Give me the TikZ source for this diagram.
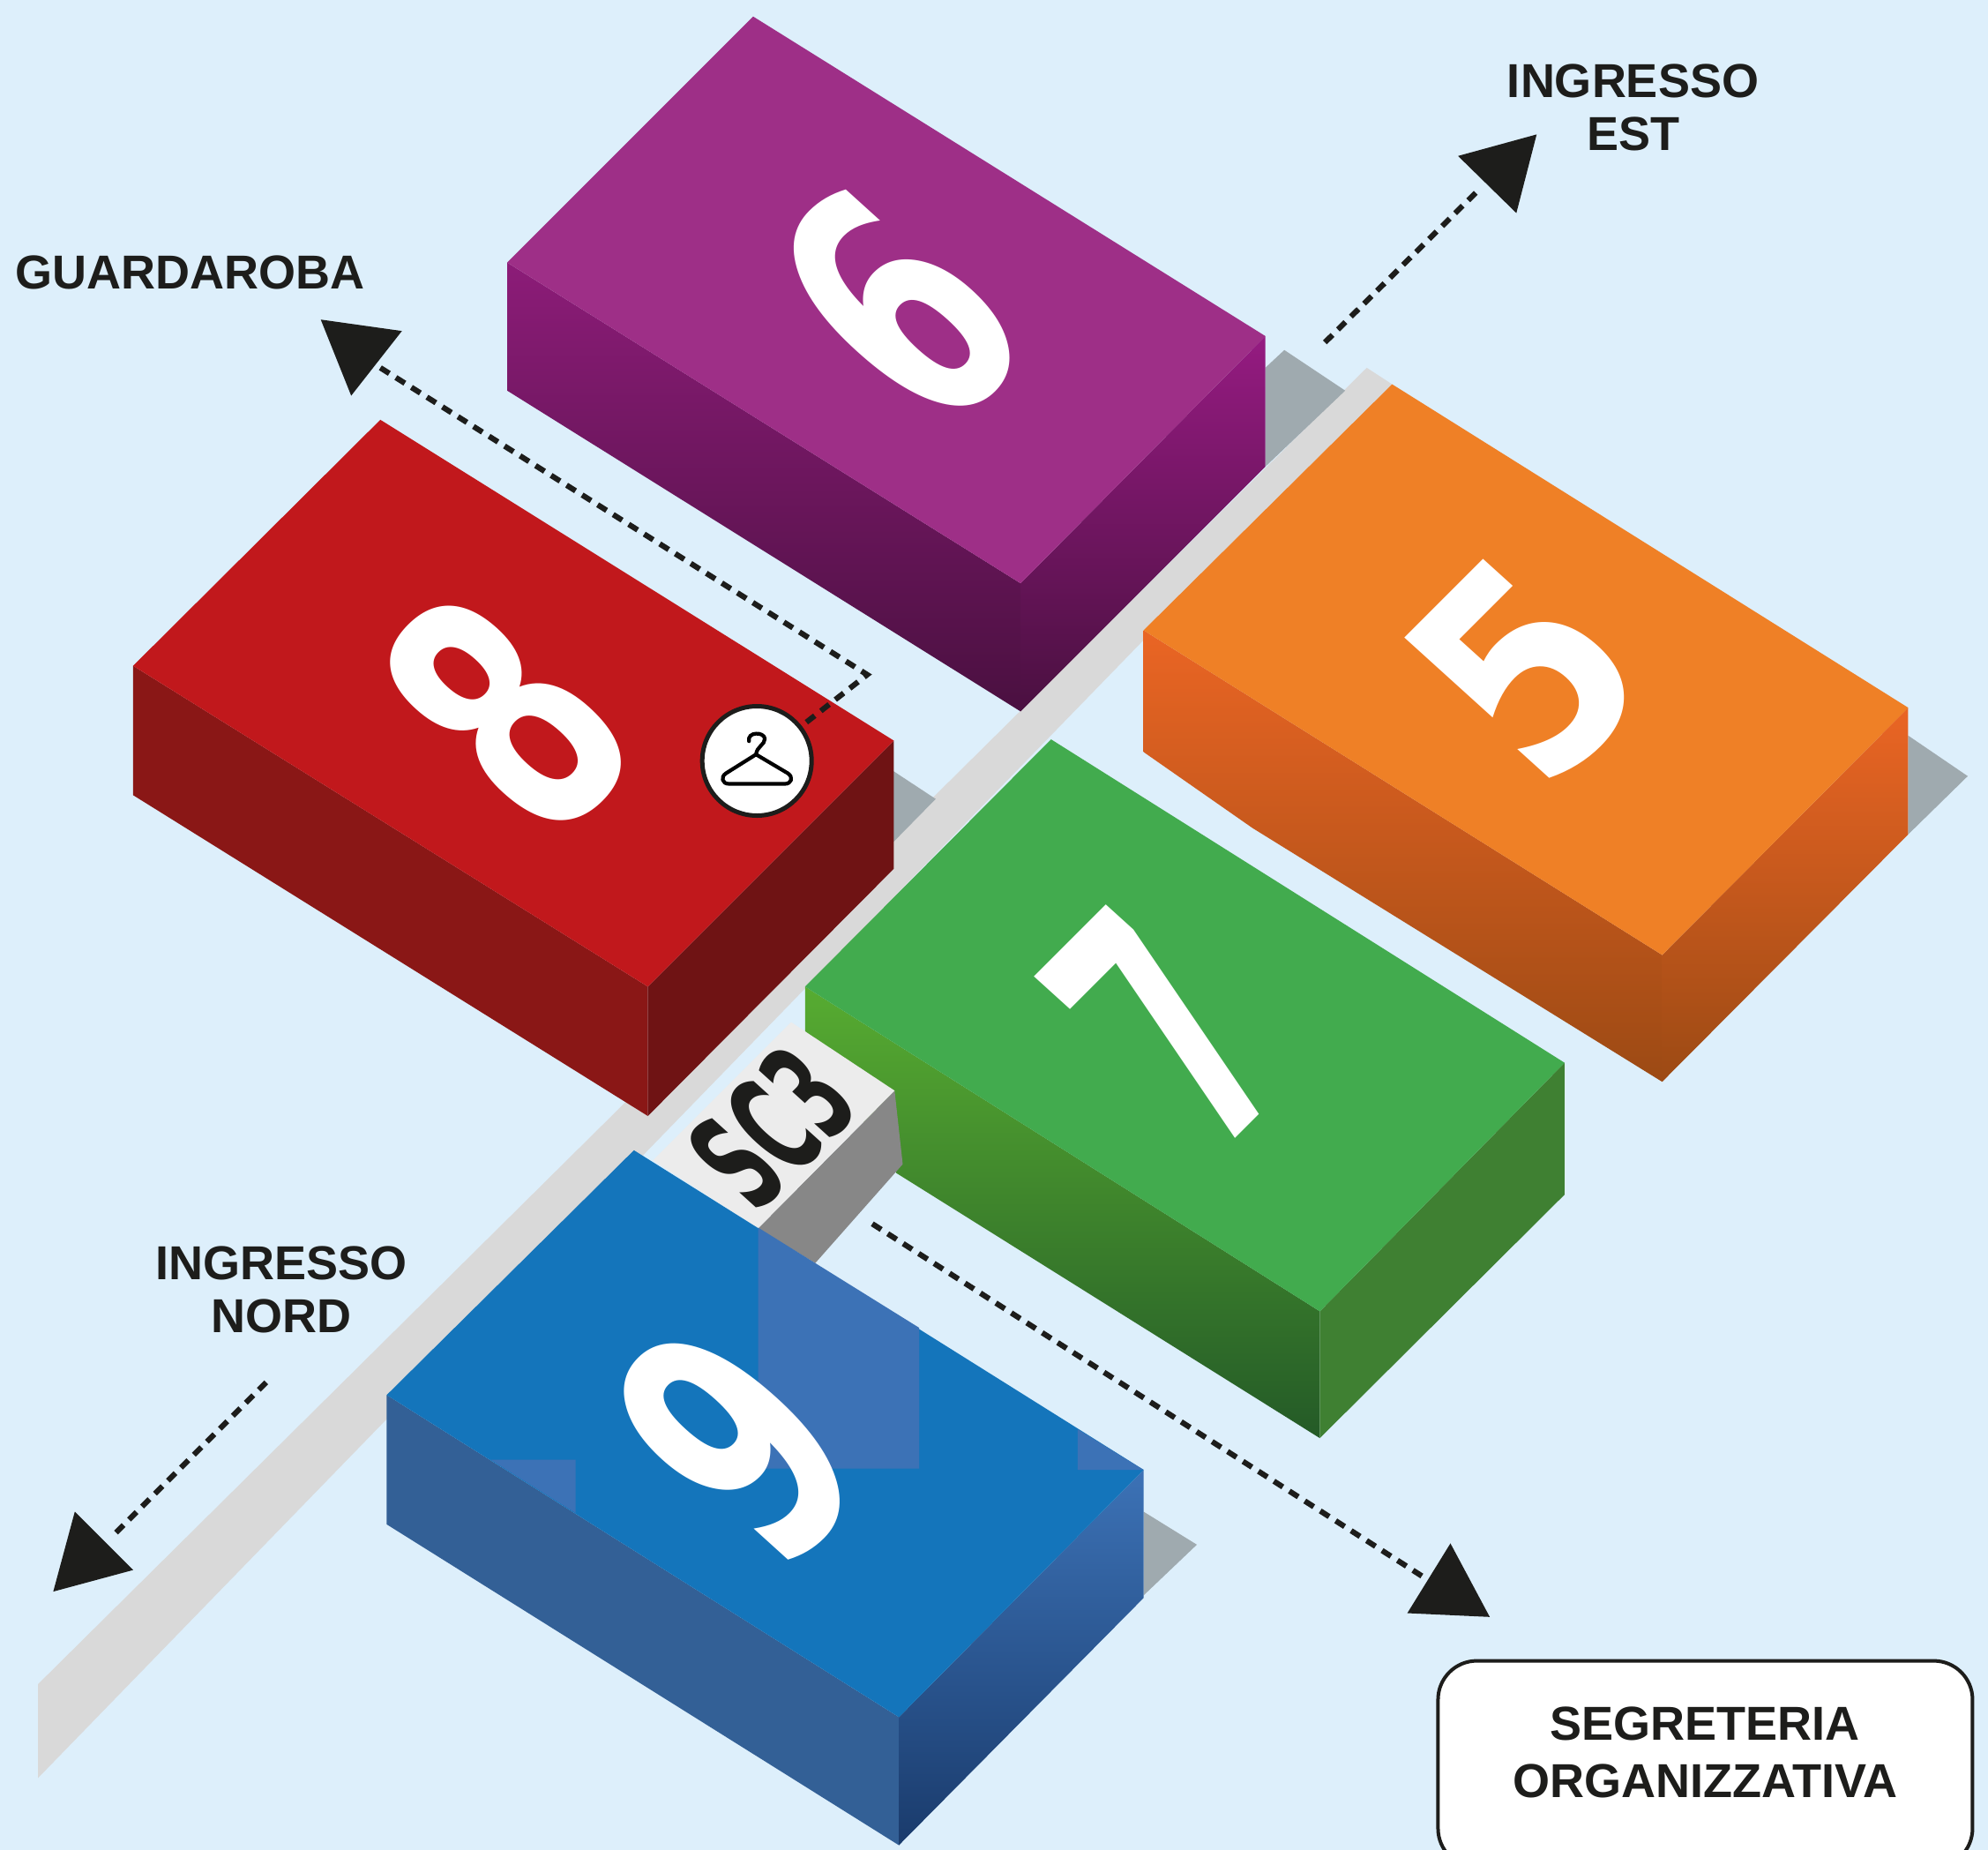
\documentclass[tikz,border=0pt]{standalone}
\usepackage{fontspec}
\setmainfont{Liberation Sans}
\newfontfamily\digitfont{DejaVu Sans}[BoldFont={DejaVu Sans Bold}]
\definecolor{bg}{HTML}{DDEFFB}
\definecolor{ink}{HTML}{1D1D1B}
\definecolor{road}{HTML}{D9D9D9}
\definecolor{shadowgrey}{HTML}{9FAAAF}
\definecolor{HTMLa}{HTML}{8C1C78}
\definecolor{HTMLb}{HTML}{4A1040}
\definecolor{HTMLc}{HTML}{951B81}
\definecolor{HTMLd}{HTML}{9E2F87}
\definecolor{HTMLe}{HTML}{EA6524}
\definecolor{HTMLf}{HTML}{DC6222}
\definecolor{HTMLg}{HTML}{9C4A14}
\definecolor{HTMLh}{HTML}{EF8026}
\definecolor{HTMLi}{HTML}{8A1716}
\definecolor{HTMLj}{HTML}{6F1314}
\definecolor{HTMLk}{HTML}{C1181C}
\definecolor{HTMLl}{HTML}{57AC31}
\definecolor{HTMLm}{HTML}{4E9C32}
\definecolor{HTMLn}{HTML}{245A27}
\definecolor{HTMLo}{HTML}{3F8032}
\definecolor{HTMLp}{HTML}{42AB4E}
\definecolor{HTMLq}{HTML}{878787}
\definecolor{HTMLr}{HTML}{ECECEC}
\definecolor{HTMLs}{HTML}{336096}
\definecolor{HTMLt}{HTML}{3C72B6}
\definecolor{HTMLu}{HTML}{1A3B6C}
\definecolor{HTMLv}{HTML}{1475BB}
\tikzset{
 shadowface/.style={fill=shadowgrey},
 arrowhead/.style={fill=ink},
 dashline/.style={draw=ink,line width=3.1pt,dash pattern=on 6pt off 4.4pt},
 label/.style={font=\bfseries\fontsize{27}{30}\selectfont,text=ink,align=center,inner sep=0pt},
 digit/.style={font=\digitfont\bfseries\fontsize{100}{100}\selectfont,text=white,inner sep=0pt,transform shape},
 sctext/.style={font=\digitfont\bfseries\fontsize{100}{100}\selectfont,text=ink,inner sep=0pt,transform shape},
}
% name, x, y, sx, sy, style, text
\newcommand{\isotext}[7]{%
 \pgfmathsetmacro{\ma}{0.707*#4}\pgfmathsetmacro{\mb}{0.707*#4}%
 \pgfmathsetmacro{\mc}{-0.74*#5}\pgfmathsetmacro{\md}{0.67*#5}%
 \begin{scope}[shift={(#2,#3)},cm={\ma,\mb,\mc,\md,(0,0)}]
 \node[#6] (#1) at (0,0) {#7};
 \end{scope}}
\begin{document}
\begin{tikzpicture}[x=0.71875pt,y=-0.71875pt]
\useasboundingbox (0,0) rectangle (1568,1458.78);
\clip (0,0) rectangle (1568,1458.78);
\fill[bg] (0,0) rectangle (1568,1458.78);
% road
\fill[road] (30,1328) -- (1078,290) -- (1098,303) -- (30,1402) -- cycle;
% shadows
\fill[shadowface] (998,290) -- (1013,276) -- (1061,308) -- (998,368) -- cycle;
\fill[shadowface] (1505,580) -- (1552,612) -- (1505,658) -- cycle;
\fill[shadowface] (704.6,608) -- (738,630) -- (704.6,664) -- cycle;
\fill[shadowface] (902,1192) -- (944,1218) -- (902,1258) -- cycle;
% box 6
\shade[top color=HTMLa,bottom color=HTMLb] (400,207) -- (805,460) -- (805,561) -- (400,308) -- cycle;
\shade[top color=HTMLc,bottom color=HTMLb] (998,265) -- (998,368) -- (805,561) -- (805,460) -- cycle;
\fill[HTMLd] (594,13) -- (998,265) -- (805,460) -- (400,207) -- cycle;
% box 5
\shade[top color=HTMLe,middle color=HTMLf,bottom color=HTMLg] (902,497) -- (1311,753) -- (1311,853) -- (988,653) -- (902,593) -- cycle;
\shade[top color=HTMLe,middle color=HTMLf,bottom color=HTMLg] (1505,558) -- (1505,658) -- (1311,853) -- (1311,753) -- cycle;
\fill[HTMLh] (1098,303) -- (1505,558) -- (1311,753) -- (902,497) -- cycle;
% box 8
\fill[HTMLi] (105,525) -- (511,778) -- (511,880) -- (105,627) -- cycle;
\fill[HTMLj] (705,584) -- (705,685) -- (511,880) -- (511,778) -- cycle;
\fill[HTMLk] (300,331) -- (705,584) -- (511,778) -- (105,525) -- cycle;
% box 7
\shade[top color=HTMLl,middle color=HTMLm,bottom color=HTMLn] (635,778) -- (1041,1034) -- (1041,1134) -- (707,925) -- (635,813) -- cycle;
\fill[HTMLo] (1234,838) -- (1234,942) -- (1041,1134) -- (1041,1034) -- cycle;
\fill[HTMLp] (829,583) -- (1234,838) -- (1041,1034) -- (635,778) -- cycle;
% SC3 block
\fill[HTMLq] (705.6,860) -- (712,918) -- (643,996) -- (598,968.5) -- cycle;
\fill[HTMLr] (624,806) -- (705.6,860) -- (598,968.5) -- (515,915) -- cycle;
% box 9
\fill[HTMLs] (305,1100) -- (709,1354) -- (709,1455) -- (305,1202) -- cycle;
\shade[top color=HTMLt,bottom color=HTMLu] (902,1159) -- (902,1260) -- (709,1455) -- (709,1354) -- cycle;
\fill[HTMLv] (500,907) -- (902,1159) -- (709,1354) -- (305,1100) -- cycle;
\fill[HTMLt] (598,968) -- (725,1047) -- (725,1158) -- (598,1158) -- cycle;
\fill[HTMLt] (850,1127) -- (902,1159) -- (850,1159) -- cycle;
\fill[HTMLt] (387,1151) -- (454,1151) -- (454,1193) -- cycle;
% digits
\isotext{six}{708}{242}{1.2}{1.95}{digit}{6}
\isotext{five}{1203}{528}{1.35}{1.65}{digit}{5}
\isotext{eight}{399}{562}{1.2}{1.97}{digit}{8}
\isotext{seven}{920}{809}{1.05}{2.0}{digit}{7}
\isotext{nine}{581}{1138}{1.2}{1.95}{digit}{9}
\isotext{sc}{609}{889}{0.4}{0.8}{sctext}{SC3}
% arrows
\coordinate (estA) at (1045,270); \coordinate (estB) at (1168,148);
\coordinate (nordA) at (210,1090); \coordinate (nordB) at (88,1212);
\coordinate (segA) at (688,965); \coordinate (segB) at (1125,1245);
\coordinate (garA) at (300,290); \coordinate (garB) at (684,532);
\node[circle,draw=ink,fill=white,line width=2.5pt,minimum size=62pt,inner sep=0pt] (hanger) at (597,600) {};
\draw[dashline] (estA) -- (estB);
\draw[dashline] (nordA) -- (nordB);
\draw[dashline] (segA) -- (segB);
\draw[dashline] (garA) -- (garB) -- (hanger);
\fill[arrowhead] (1212,106) -- (1150,123) -- (1196,168) -- cycle;
\fill[arrowhead] (253,252) -- (317,261) -- (277,312) -- cycle;
\fill[arrowhead] (59,1192) -- (105,1238) -- (42,1255) -- cycle;
\fill[arrowhead] (1144,1217) -- (1110,1272) -- (1175,1275) -- cycle;
% hanger icon
\begin{scope}[shift={(597,600)},x=0.16667pt,y=-0.16667pt]
\draw[line width=2.1pt,line cap=round,line join=round,draw=black]
 (-27,-67) .. controls (-34,-100) and (25,-100) .. (27,-75) .. controls (27,-55) and (0,-50) .. (-3,-22);
\draw[line width=2.1pt,line cap=round,line join=round,draw=black]
 (-3,-22) -- (-105,42) .. controls (-125,55) and (-118,78) .. (-95,78) -- (95,78) .. controls (118,78) and (125,55) .. (105,42) -- cycle;
\end{scope}
% labels
\node[label] (est) at (1288,85) {INGRESSO\\EST};
\node[label] (gar) at (150,215) {GUARDAROBA};
\node[label] (nord) at (222,1017) {INGRESSO\\NORD};
\node[draw=ink,fill=white,line width=2pt,rounded corners=22pt,minimum width=303pt,minimum height=117pt,inner sep=0pt] (segbox) at (1345,1391) {};
\node[label,font=\bfseries\fontsize{27}{32.5}\selectfont] (seg) at (1345,1382) {SEGRETERIA\\ORGANIZZATIVA};
\end{tikzpicture}
\end{document}
